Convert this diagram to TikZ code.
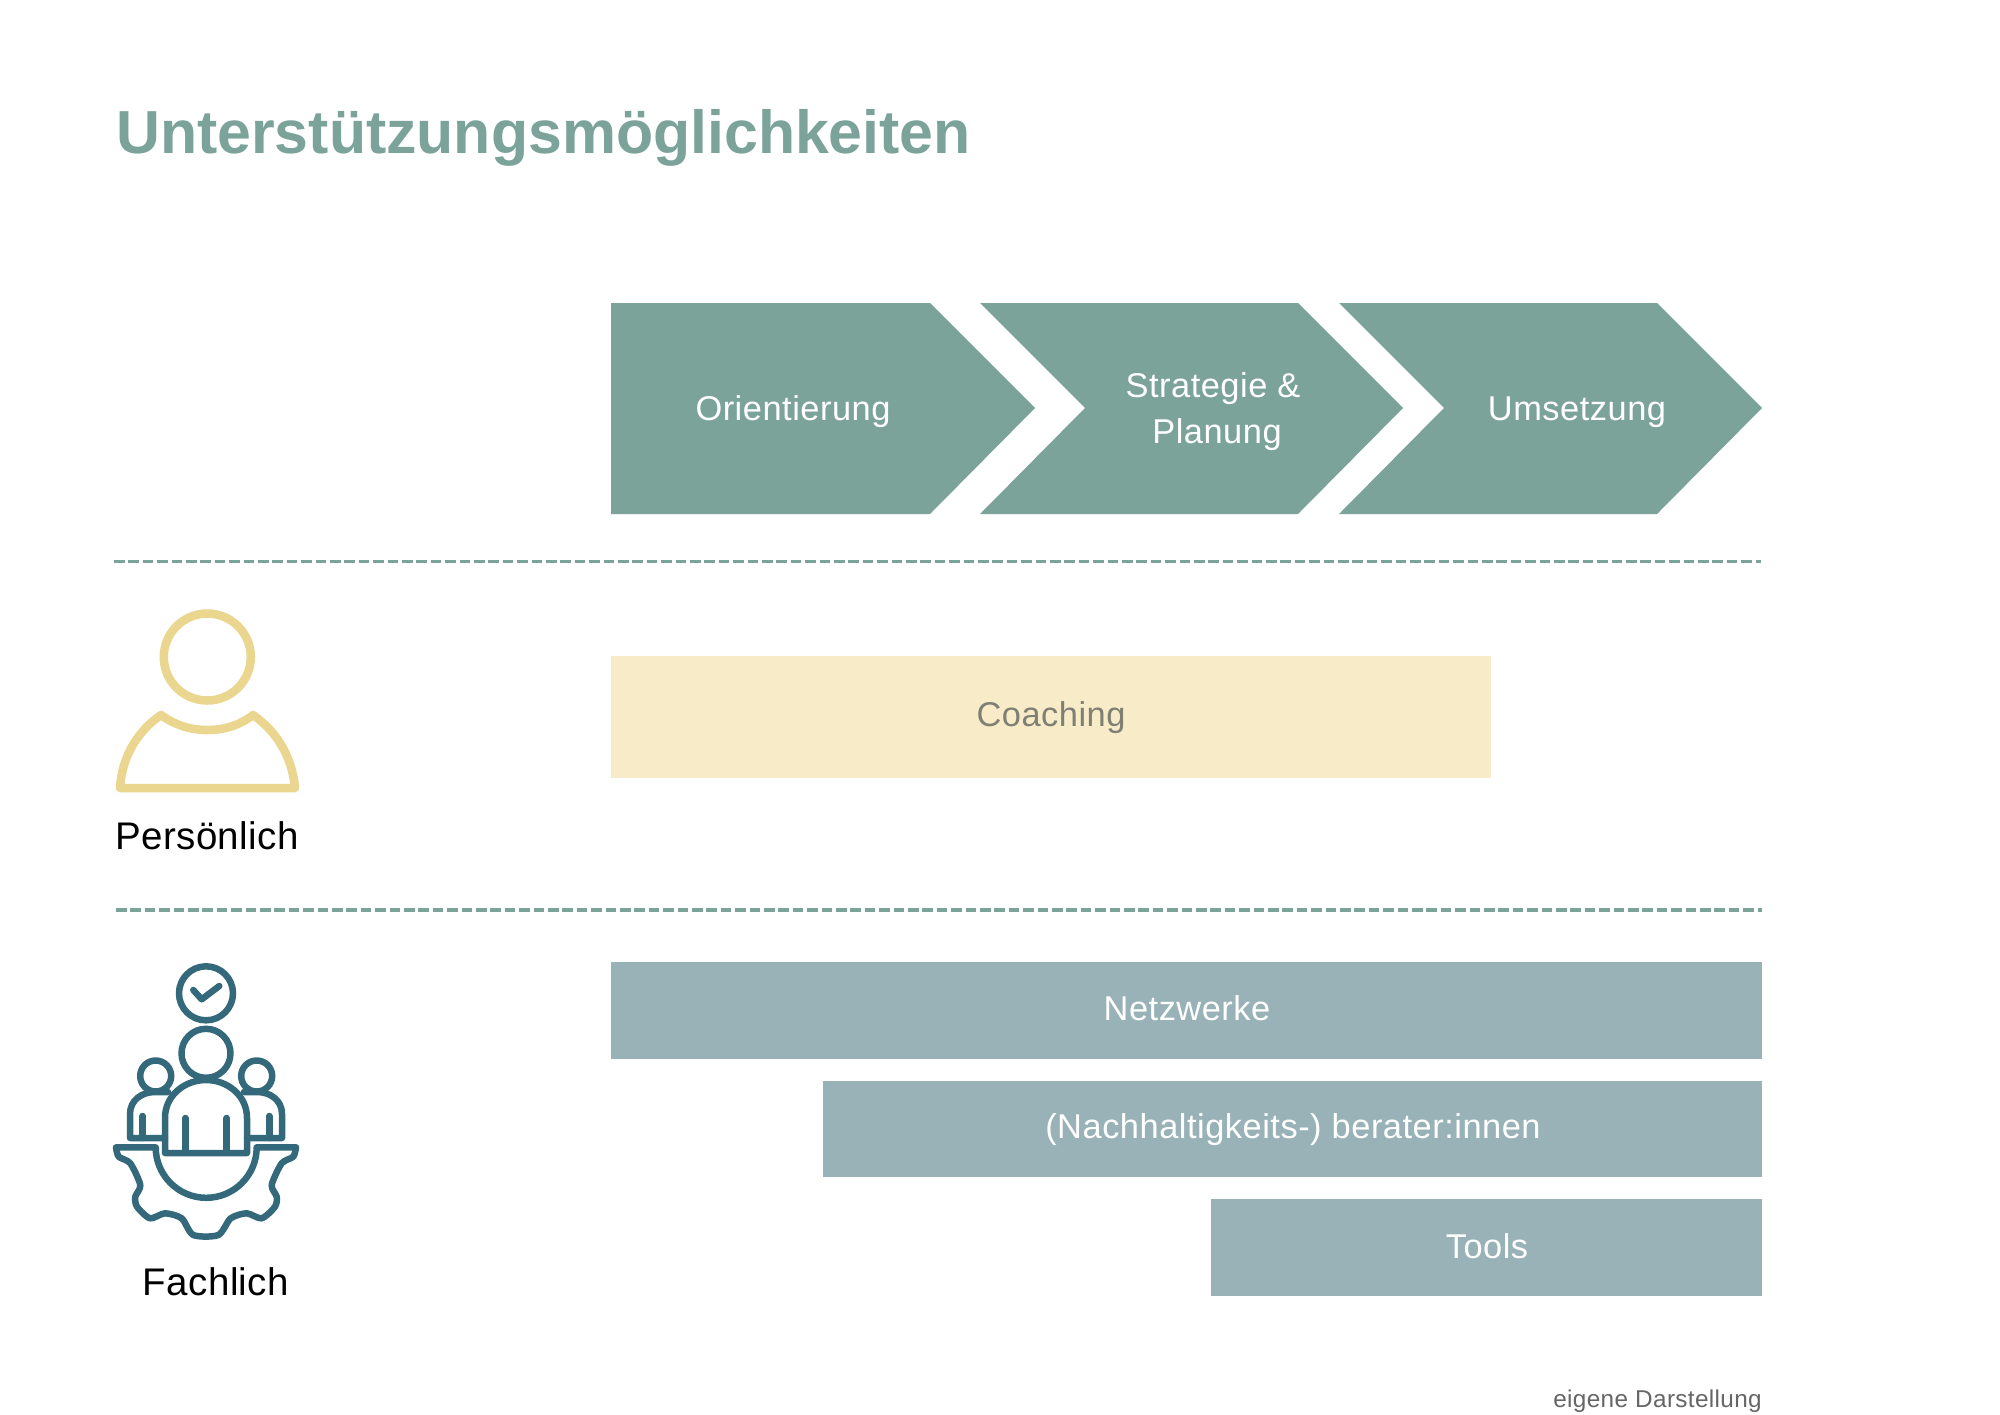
\documentclass[tikz,border=0pt]{standalone}
\usepackage{fontspec}
\setmainfont{Liberation Sans}
\newfontfamily\lblfont[LetterSpace=1.5]{Liberation Sans}
\newfontfamily\sidefont[LetterSpace=1]{Liberation Sans}
\definecolor{sage}{HTML}{7BA399}
\definecolor{sand}{HTML}{F7EBC8}
\definecolor{sandline}{HTML}{EBD68F}
\definecolor{steel}{HTML}{98B2B8}
\definecolor{petrol}{HTML}{33697A}
\definecolor{coachtext}{HTML}{7F7F74}
\tikzset{
  chev/.style={fill=sage,draw=none},
  barbox/.style={fill=steel,draw=none},
  divider/.style={draw=sage,line width=3.2pt,dash pattern=on 10.5pt off 3.9pt},
  lbl/.style={font=\lblfont\fontsize{34.4}{40}\selectfont,text=white,inner sep=0pt,align=center},
  sidelbl/.style={font=\sidefont\fontsize{38.5}{44}\selectfont,text=black,inner sep=0pt},
  yicon/.style={draw=sandline,line width=8.5pt,line join=round},
  ticon/.style={draw=petrol,line width=6.5pt,line join=round,line cap=round},
}
\begin{document}
\begin{tikzpicture}[x=1pt,y=-1pt]
\useasboundingbox (0,0) rectangle (2000,1414);
\fill[white] (0,0) rectangle (2000,1414);
% title
\node[anchor=base west,inner sep=0pt,text=sage,font=\fontsize{60.8}{70}\selectfont\bfseries] (title) at (116,153) {Unterstützungsmöglichkeiten};
% chevrons
\fill[chev] (611,303)--(930,303)--(1035,408)--(930,514)--(611,514)--cycle;
\fill[chev] (980,303)--(1298,303)--(1403,408)--(1298,514)--(980,514)--(1085,408)--cycle;
\fill[chev] (1339,303)--(1657,303)--(1762,408)--(1657,514)--(1339,514)--(1444,408)--cycle;
\node[lbl] (orient) at (793,411.5) {Orientierung};
\node[lbl] (strat) at (1213,388.5) {Strategie \&};
\node[lbl] (plan) at (1217,434.5) {Planung};
\node[lbl] (ums) at (1577,412) {Umsetzung};
% dividers
\coordinate (d1a) at (114,561.5); \coordinate (d1b) at (1761,561.5);
\coordinate (d2a) at (116,910); \coordinate (d2b) at (1762,910);
\draw[divider] (d1a)--(d1b);
\draw[divider] (d2a)--(d2b);
% bars
\fill[fill=sand] (611,656) rectangle (1491,778);
\node[lbl,text=coachtext] (coach) at (1051,717.5) {Coaching};
\fill[barbox] (611,962) rectangle (1762,1059);
\node[lbl] (netz) at (1187,1008) {Netzwerke};
\fill[barbox] (823,1081) rectangle (1762,1177);
\node[lbl] (berat) at (1293,1130) {(Nachhaltigkeits-) berater:innen};
\fill[barbox] (1211,1199) rectangle (1762,1296);
\node[lbl] (tools) at (1487,1246) {Tools};
% side labels
\node[sidelbl] (pers) at (207,836) {Persönlich};
\node[sidelbl] (fach) at (216,1282) {Fachlich};
\node[anchor=east,inner sep=0pt,text=black!60,font=\lblfont\fontsize{24.3}{28}\selectfont] (foot) at (1762,1401) {eigene Darstellung};
% person icon
\draw[yicon] (207.3,657) circle (43.5);
\draw[yicon] (120,788)--(295,788) .. controls (292,755) and (275,730) .. (253,715)
  .. controls (240,725) and (225,730) .. (207.3,730)
  .. controls (190,730) and (175,725) .. (161,715)
  .. controls (139,730) and (122,755) .. (120,788) -- cycle;
% team icon
\draw[ticon] (206,993.3) circle (27);
\draw[ticon] (193.3,990)--(201.7,999.3)--(219.3,986);
\draw[ticon] (206,1053.3) circle (24.5);
\draw[ticon] (155.7,1076) circle (15.5);
\draw[ticon] (256.7,1076) circle (15.5);
\draw[ticon] (165,1153)--(165,1118) .. controls (165,1095) and (185,1080) .. (206,1080)
  .. controls (227,1080) and (247,1095) .. (247,1118)--(247,1153)--cycle;
\draw[ticon] (185.3,1118)--(185.3,1152);
\draw[ticon] (226.7,1118)--(226.7,1152);
\draw[ticon] (165,1138)--(130,1138)--(130,1114) .. controls (130,1100) and (142,1092) .. (155,1092)--(168,1092);
\draw[ticon] (247,1138)--(282,1138)--(282,1114) .. controls (282,1100) and (270,1092) .. (257,1092)--(244,1092);
\draw[ticon] (142.7,1116)--(142.7,1138);
\draw[ticon] (269.3,1116)--(269.3,1138);
\draw[ticon] (155.7,1147.3) arc[start angle=180,end angle=0,radius=50.5] -- (296,1147.3)
  plot[smooth,tension=0.45] coordinates {(296,1147.3)(293.3,1156.7)(281.7,1163.3)(271.7,1185)(276.7,1196.7)(275,1206.7)(261.7,1218.3)(246.7,1213.3)(230.7,1218.3)(218.3,1235)(193.3,1235)(181.7,1218.3)(165,1213.3)(150,1218.3)(137,1206.7)(135.3,1196.7)(140.3,1185)(130.3,1163.3)(118.7,1156.7)(116,1147.3)}
  -- (155.7,1147.3);
\end{tikzpicture}
\end{document}
